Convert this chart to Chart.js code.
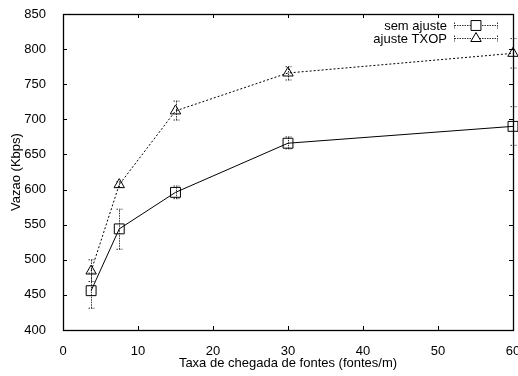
<!DOCTYPE html>
<html>
<head>
<meta charset="utf-8">
<script src="https://cdn.jsdelivr.net/npm/chart.js@4/dist/chart.umd.min.js"></script>
<style>
  html, body { margin: 0; padding: 0; background: #fff; }
  #wrap { width: 518px; height: 376px; }
</style>
</head>
<body>
<div id="wrap"><canvas id="c" width="518" height="376"></canvas></div>
<script>
// Arrival rate of sources (fontes/m)
const rates = [3.75, 7.5, 15, 30, 60];

// Throughput without adjustment, with confidence interval bounds
const semAjuste     = [456, 544, 596, 666, 690];
const semAjusteLow  = [431, 515, 587, 658, 663];
const semAjusteHigh = [481, 572, 605, 675, 718];

// Throughput with TXOP adjustment, with confidence interval bounds
const ajusteTxop     = [484, 607, 712, 766, 794];
const ajusteTxopLow  = [469, 603, 699, 756, 773];
const ajusteTxopHigh = [500, 611, 726, 775, 815];

const xTickValues = [0, 10, 20, 30, 40, 50, 60];
const yTickValues = [400, 450, 500, 550, 600, 650, 700, 750, 800, 850];

const seriesLabels = ['sem ajuste', 'ajuste TXOP'];
const FONT = 'Liberation Sans, Arial, Helvetica, sans-serif';

// Frame around the plot area plus inward tick marks on all four sides
const framePlugin = {
  id: 'frame',
  afterDraw(chart) {
    const { ctx, chartArea: a, scales: { x, y } } = chart;
    ctx.save();
    ctx.strokeStyle = '#000';
    ctx.lineWidth = 1;
    const tl = 4;
    ctx.beginPath();
    xTickValues.forEach(v => {
      const px = Math.round(x.getPixelForValue(v)) + 0.5;
      ctx.moveTo(px, a.bottom); ctx.lineTo(px, a.bottom - tl);
      ctx.moveTo(px, a.top); ctx.lineTo(px, a.top + tl);
    });
    yTickValues.forEach(v => {
      const py = Math.round(y.getPixelForValue(v)) + 0.5;
      ctx.moveTo(a.left, py); ctx.lineTo(a.left + tl, py);
      ctx.moveTo(a.right, py); ctx.lineTo(a.right - tl, py);
    });
    ctx.stroke();
    ctx.lineWidth = 1.3;
    ctx.strokeRect(Math.round(a.left) + 0.5, Math.round(a.top) + 0.5,
                   Math.round(a.right - a.left), Math.round(a.bottom - a.top));
    ctx.restore();
  }
};

// Vertical error bars with small caps, drawn dotted
const errorBarPlugin = {
  id: 'errorBars',
  beforeDatasetsDraw(chart) {
    const { ctx, scales: { x, y } } = chart;
    const bounds = [[semAjusteLow, semAjusteHigh], [ajusteTxopLow, ajusteTxopHigh]];
    ctx.save();
    ctx.strokeStyle = '#333';
    ctx.lineWidth = 1;
    ctx.setLineDash([1.5, 1]);
    bounds.forEach(([lo, hi]) => {
      rates.forEach((r, i) => {
        const px = Math.round(x.getPixelForValue(r)) + 0.5;
        const y0 = y.getPixelForValue(lo[i]);
        const y1 = y.getPixelForValue(hi[i]);
        ctx.beginPath();
        ctx.moveTo(px, y0); ctx.lineTo(px, y1);
        ctx.moveTo(px - 3, y0); ctx.lineTo(px + 3, y0);
        ctx.moveTo(px - 3, y1); ctx.lineTo(px + 3, y1);
        ctx.stroke();
      });
    });
    ctx.restore();
  }
};

// Key in the upper right: label text, line sample and marker
const keyPlugin = {
  id: 'key',
  afterDraw(chart) {
    const { ctx } = chart;
    const rows = [
      { y: 25.5, style: 'rect', r: 7 },
      { y: 38.5, style: 'triangle', r: 6 }
    ];
    ctx.save();
    ctx.font = '13px ' + FONT;
    ctx.textAlign = 'right';
    ctx.textBaseline = 'middle';
    rows.forEach((row, i) => {
      ctx.fillStyle = '#000';
      ctx.fillText(seriesLabels[i], 447, row.y + 1);
      ctx.strokeStyle = '#333';
      ctx.lineWidth = 1;
      ctx.setLineDash([1.5, 1]);
      ctx.beginPath();
      ctx.moveTo(454.5, row.y); ctx.lineTo(497.5, row.y);
      ctx.moveTo(454.5, row.y - 3); ctx.lineTo(454.5, row.y + 3);
      ctx.moveTo(497.5, row.y - 3); ctx.lineTo(497.5, row.y + 3);
      ctx.stroke();
      ctx.setLineDash([]);
      ctx.strokeStyle = '#000';
      ctx.fillStyle = '#fff';
      Chart.helpers.drawPoint(ctx, { pointStyle: row.style, radius: row.r, borderWidth: 1 }, 476, row.y);
    });
    ctx.restore();
  }
};

const chart = new Chart(document.getElementById('c'), {
  type: 'line',
  data: {
    datasets: [
      {
        label: seriesLabels[0],
        data: rates.map((r, i) => ({ x: r, y: semAjuste[i] })),
        borderColor: '#000',
        borderWidth: 1,
        pointStyle: 'rect',
        pointRadius: 7,
        pointBorderWidth: 1,
        pointBorderColor: '#000',
        pointBackgroundColor: 'rgba(0,0,0,0)',
        tension: 0,
        fill: false,
        clip: false
      },
      {
        label: seriesLabels[1],
        data: rates.map((r, i) => ({ x: r, y: ajusteTxop[i] })),
        borderColor: '#000',
        borderWidth: 1,
        borderDash: [2, 2],
        pointStyle: 'triangle',
        pointRadius: 6,
        pointBorderWidth: 1,
        pointBorderColor: '#000',
        pointBackgroundColor: 'rgba(0,0,0,0)',
        tension: 0,
        fill: false,
        clip: false
      }
    ]
  },
  options: {
    responsive: false,
    animation: false,
    devicePixelRatio: 1,
    layout: { autoPadding: false, padding: { top: 14, right: 5, left: 0, bottom: 0 } },
    plugins: {
      legend: { display: false },
      tooltip: { enabled: false }
    },
    scales: {
      x: {
        type: 'linear',
        min: 0,
        max: 60,
        grid: { display: false },
        border: { display: false },
        afterBuildTicks: s => { s.ticks = xTickValues.map(v => ({ value: v })); },
        ticks: {
          autoSkip: false,
          maxRotation: 0,
          padding: 6,
          color: '#000',
          font: { family: FONT, size: 13 }
        },
        title: {
          display: true,
          text: 'Taxa de chegada de fontes (fontes/m)',
          color: '#000',
          font: { family: FONT, size: 13 },
          padding: { top: 0, bottom: 5 }
        },
        afterFit: s => { s.height = 46; s.paddingLeft = 0; s.paddingRight = 0; }
      },
      y: {
        type: 'linear',
        min: 400,
        max: 850,
        grid: { display: false },
        border: { display: false },
        afterBuildTicks: s => { s.ticks = yTickValues.map(v => ({ value: v })); },
        ticks: {
          autoSkip: false,
          padding: 9,
          color: '#000',
          font: { family: FONT, size: 13 }
        },
        title: {
          display: true,
          text: 'Vazao (Kbps)',
          color: '#000',
          font: { family: FONT, size: 13 },
          padding: { top: 9, bottom: 0 }
        },
        afterFit: s => { s.width = 63; s.paddingTop = 0; s.paddingBottom = 0; }
      }
    }
  },
  plugins: [errorBarPlugin, framePlugin, keyPlugin]
});
</script>
</body>
</html>
